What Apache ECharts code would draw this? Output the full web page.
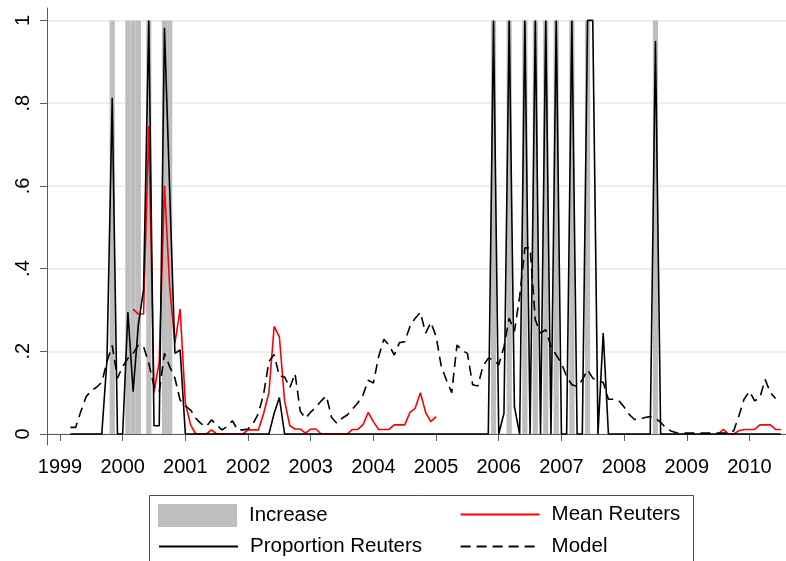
<!DOCTYPE html>
<html>
<head>
<meta charset="utf-8">
<script src="https://cdn.jsdelivr.net/npm/echarts@6/dist/echarts.min.js"></script>
<style>
html,body{margin:0;padding:0;background:#fff;}
#chart{width:786px;height:561px;}
</style>
</head>
<body>
<div id="chart"></div>
<script>
// Monthly data starting January 1999 (index 0 = 1999m1)
const startYear = 1999;

const proportionReuters = [
  null,null,0,0,0,0,0,0,0,0.18,0.813,0,
  0,0.295,0.102,0.264,0.349,1,0.02,0.02,0.982,0.59,0.195,0.203,
  0,0,0,0,0,0,0,0,0,0,0,0,
  0,0,0,0,0,0.05,0.088,0,0,0,0,0,
  0,0,0,0,0,0,0,0,0,0,0,0,
  0,0,0,0,0,0,0,0,0,0,0,0,
  0,0,0,0,0,0,0,0,0,0,0,1,
  0,0.05,1,0.066,0,1,0,1,0,1,0,1,
  0,0,1,0,0,1,1,0,0.244,0,0,0,
  0,0,0,0,0,0,0.95,0,0,0,0,0,
  0,0,0,0,0,0,0,0,0,0,0,0,
  0,0,0,0,0,0,0
];

const meanReuters = [
  null,null,null,null,null,null,null,null,null,null,null,null,
  null,null,0.302,0.29,0.29,0.744,0.1,0.175,0.601,0.355,0.22,0.302,
  0.075,0.022,0,0,0,0.01,0,0,0,0,0,0,
  0.01,0.01,0.01,0.05,0.1,0.26,0.235,0.08,0.02,0.012,0.012,0.002,
  0.012,0.012,0,0,0,0,0,0,0.011,0.011,0.022,0.052,
  0.03,0.011,0.011,0.011,0.022,0.022,0.022,0.052,0.062,0.1,0.052,0.03,
  0.042,null,null,null,null,null,null,null,null,null,null,null,
  null,null,null,null,null,null,null,null,null,null,null,null,
  null,null,null,null,null,null,null,null,null,null,null,null,
  null,null,null,null,null,null,null,null,null,null,null,null,
  null,null,null,null,null,null,0,0.011,0,0,0.008,0.011,
  0.011,0.011,0.022,0.022,0.022,0.011,0.011
];

const model = [
  null,null,0.016,0.016,0.055,0.09,0.105,0.113,0.125,0.175,0.214,0.135,
  0.163,0.183,0.195,0.215,0.211,0.171,0.115,0.102,0.195,0.163,0.135,0.082,
  0.068,0.058,0.038,0.025,0.018,0.034,0.022,0.01,0.018,0.032,0.01,0.01,
  0.012,0.026,0.05,0.098,0.175,0.192,0.14,0.138,0.112,0.146,0.055,0.038,
  0.053,0.065,0.08,0.092,0.04,0.026,0.038,0.046,0.06,0.075,0.094,0.13,
  0.123,0.187,0.229,0.215,0.191,0.221,0.223,0.26,0.28,0.294,0.244,0.27,
  0.236,0.163,0.13,0.1,0.215,0.202,0.195,0.119,0.116,0.165,0.183,0.18,
  0.167,0.211,0.28,0.248,0.332,0.45,0.45,0.276,0.244,0.252,0.211,0.191,
  0.171,0.139,0.119,0.115,0.131,0.155,0.135,0.127,0.125,0.084,0.084,0.081,
  0.065,0.047,0.035,0.036,0.04,0.042,0.038,0.028,0.015,0.007,0.003,0.002,
  0.002,0.002,0.002,0.002,0.002,0.002,0.002,0.002,0.002,0.008,0.045,0.085,
  0.103,0.08,0.088,0.132,0.1,0.086
];

const increaseMonths = [
  '1999-11','2000-02','2000-03','2000-04','2000-06','2000-09','2000-10',
  '2005-12','2006-03','2006-06','2006-08','2006-10','2006-12',
  '2007-03','2007-06','2008-07'
];

const xTicks = [1999,2000,2001,2002,2003,2004,2005,2006,2007,2008,2009,2010];
const yTicks = [0,0.2,0.4,0.6,0.8,1];
const yTickLabels = ['0','.2','.4','.6','.8','1'];

const seriesNames = ['Increase','Mean Reuters','Proportion Reuters','Model'];

// helpers
const monthToX = i => startYear + i / 12;
const toPairs = arr => arr.map((v, i) => [monthToX(i), v]);
const increaseData = increaseMonths.map(s => {
  const [y, m] = s.split('-').map(Number);
  return [y + (m - 1) / 12, 1];
});

const FONT = 'Liberation Sans, Arial, Helvetica, sans-serif';
const chart = echarts.init(document.getElementById('chart'), null, {renderer: 'canvas'});

const legendCommon = {
  orient: 'horizontal',
  padding: 0,
  itemWidth: 79,
  itemHeight: 23,
  itemGap: 0,
  selectedMode: false,
  textStyle: {fontFamily: FONT, fontSize: 20.5, color: '#000', padding: [0, 0, 0, 7]}
};
const lineLegend = Object.assign({}, legendCommon, {itemStyle: {opacity: 0}});

chart.setOption({
  animation: false,
  backgroundColor: '#ffffff',
  grid: {left: 47, right: 0, top: 8, bottom: 116, containLabel: false},
  xAxis: {
    type: 'value',
    min: 1998.7926,
    max: 2010.583,
    axisLine: {show: true, lineStyle: {color: '#5a5a5a', width: 1}},
    axisTick: {show: true, length: 7, customValues: xTicks, lineStyle: {color: '#5a5a5a', width: 1}},
    axisLabel: {
      show: true, customValues: xTicks, margin: 12,
      fontFamily: FONT, fontSize: 20, color: '#000',
      formatter: v => String(Math.round(v))
    },
    splitLine: {show: false}
  },
  yAxis: {
    type: 'value',
    min: -0.0266,
    max: 1.030,
    axisLine: {show: true, lineStyle: {color: '#5a5a5a', width: 1}},
    axisTick: {show: true, length: 7, customValues: yTicks, lineStyle: {color: '#5a5a5a', width: 1}},
    axisLabel: {
      show: true, customValues: yTicks, margin: 14, rotate: 90,
      fontFamily: FONT, fontSize: 20, color: '#000',
      formatter: v => {
        const k = yTicks.findIndex(t => Math.abs(t - v) < 1e-6);
        return k >= 0 ? yTickLabels[k] : '';
      }
    },
    splitLine: {show: true, lineStyle: {color: '#e8e8e8', width: 1.5}}
  },
  legend: [
    Object.assign({}, legendCommon, {data: [{name: seriesNames[0], icon: 'rect'}], left: 158, top: 504}),
    Object.assign({}, lineLegend, {data: [seriesNames[1]], left: 459.6, top: 504}),
    Object.assign({}, lineLegend, {data: [seriesNames[2]], left: 158, top: 536}),
    Object.assign({}, lineLegend, {data: [seriesNames[3]], left: 459.6, top: 536})
  ],
  graphic: [{
    type: 'rect',
    shape: {x: 149.5, y: 495.5, width: 544, height: 90},
    style: {fill: 'none', stroke: '#4d4d4d', lineWidth: 1},
    silent: true
  }],
  series: [
    {
      name: seriesNames[0],
      type: 'bar',
      data: increaseData,
      barWidth: 5.2,
      itemStyle: {color: '#bebebe'},
      z: 1
    },
    {
      name: seriesNames[1],
      type: 'line',
      data: toPairs(meanReuters),
      symbol: 'none',
      connectNulls: false,
      lineStyle: {color: '#ff0000', width: 1.6},
      itemStyle: {color: '#ff0000'},
      z: 2
    },
    {
      name: seriesNames[2],
      type: 'line',
      data: toPairs(proportionReuters),
      symbol: 'none',
      connectNulls: false,
      lineStyle: {color: '#000000', width: 1.6},
      itemStyle: {color: '#000000'},
      z: 3
    },
    {
      name: seriesNames[3],
      type: 'line',
      data: toPairs(model),
      symbol: 'none',
      connectNulls: false,
      lineStyle: {color: '#000000', width: 1.6, type: [10, 6]},
      itemStyle: {color: '#000000'},
      z: 4
    }
  ]
});
</script>
</body>
</html>
